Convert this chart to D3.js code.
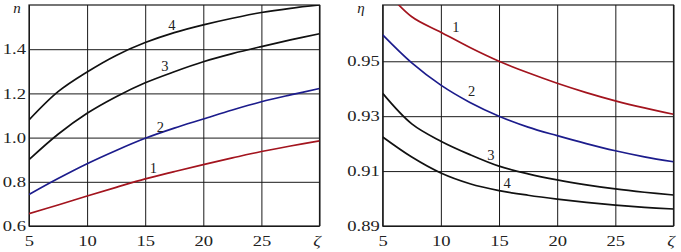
<!DOCTYPE html>
<html><head><meta charset="utf-8">
<script src="https://cdn.jsdelivr.net/npm/d3@7/dist/d3.min.js"></script>
<style>
body{margin:0;background:#fff;}
svg{display:block;}
</style></head>
<body>
<svg id="c" width="681" height="252"></svg>
<script>
const zeta = [5, 7.5, 10, 12.5, 15, 17.5, 20, 22.5, 25, 27.5, 30];
const xTicks = [5, 10, 15, 20, 25, 30];

// Left chart: n
const n1 = [0.656, 0.695, 0.736, 0.775, 0.813, 0.846, 0.878, 0.908, 0.937, 0.962, 0.985];
const n2 = [0.743, 0.815, 0.882, 0.942, 0.997, 1.043, 1.084, 1.125, 1.162, 1.193, 1.222];
const n3 = [0.900, 1.015, 1.110, 1.185, 1.248, 1.298, 1.343, 1.380, 1.412, 1.442, 1.470];
const n4 = [1.080, 1.208, 1.297, 1.372, 1.430, 1.475, 1.510, 1.540, 1.566, 1.585, 1.600];
const nTicks = [0.6, 0.8, 1.0, 1.2, 1.4];
const nLabelPos = [[15.7, 0.862], [16.3, 1.048], [16.7, 1.324], [17.3, 1.51]];

// Right chart: eta
const e1 = [0.9770, 0.9662, 0.9606, 0.9550, 0.9500, 0.9458, 0.9420, 0.9386, 0.9356, 0.9330, 0.9307];
const e2 = [0.9596, 0.9494, 0.9413, 0.9350, 0.9300, 0.9260, 0.9229, 0.9200, 0.9174, 0.9152, 0.9134];
const e3 = [0.9383, 0.9272, 0.9209, 0.9160, 0.9118, 0.9090, 0.9068, 0.9050, 0.9035, 0.9023, 0.9013];
const e4 = [0.9224, 0.9151, 0.9093, 0.9054, 0.9029, 0.9012, 0.8998, 0.8986, 0.8976, 0.8968, 0.8962];
const eTicks = [0.89, 0.91, 0.93, 0.95];
const eLabelPos = [[11.3, 0.9625], [12.65, 0.9391], [14.3, 0.916], [15.7, 0.9056]];

const seriesLabels = ["1", "2", "3", "4"];
const colors = ["#a3141e", "#1c1c8c", "#111", "#111"];

const svg = d3.select("#c");
const SX = 1.28;
const fontFam = "'Liberation Serif','DejaVu Serif',serif";

function panel(cfg) {
  const x = d3.scaleLinear().domain([5, 30]).range([cfg.x0, cfg.x1]);
  const y = d3.scaleLinear().domain(cfg.yDomain).range([226, 5]);
  const g = svg.append("g");
  const id = "clip" + cfg.name;
  svg.append("clipPath").attr("id", id).append("rect")
    .attr("x", cfg.x0).attr("y", 5).attr("width", cfg.x1 - cfg.x0).attr("height", 221);

  // y grid + labels
  const ya = g.append("g").attr("transform", `translate(${cfg.x0},0)`)
    .call(d3.axisLeft(y).tickValues(cfg.yTicks).tickFormat(cfg.yFmt)
      .tickSize(-(cfg.x1 - cfg.x0)).tickSizeOuter(0));
  ya.select(".domain").remove();
  ya.selectAll("line").attr("stroke", "#1a1a1a").attr("stroke-width", 1);
  ya.selectAll("text").attr("font-family", fontFam).attr("font-size", 14.5)
    .attr("fill", "#222").attr("x", -3 / SX).attr("dy", "0.32em")
    .attr("transform", `scale(${SX},1)`);

  // x grid + labels
  const xa = g.append("g").attr("transform", `translate(0,226)`)
    .call(d3.axisBottom(x).tickValues(xTicks)
      .tickFormat(d => d === 30 ? "ζ" : d)
      .tickSize(-221).tickSizeOuter(0));
  xa.select(".domain").remove();
  xa.selectAll("line").attr("stroke", "#1a1a1a").attr("stroke-width", 1);
  xa.selectAll("text").attr("font-family", fontFam).attr("font-size", 14.5)
    .attr("fill", "#222").attr("y", 10).attr("dy", "0.71em")
    .attr("text-anchor", "middle")
    .attr("transform", `scale(${SX},1)`)
    .attr("x", d => (d === 30 ? -3 : 0) / SX)
    .attr("font-style", d => d === 30 ? "italic" : null);

  // frame
  g.append("rect").attr("x", cfg.x0).attr("y", 5)
    .attr("width", cfg.x1 - cfg.x0).attr("height", 221)
    .attr("fill", "none").attr("stroke", "#1a1a1a").attr("stroke-width", 1.2);

  // curves
  const line = d3.line().x((d, i) => x(zeta[i])).y(d => y(d)).curve(d3.curveCatmullRom.alpha(0.5));
  const cg = g.append("g").attr("clip-path", `url(#${id})`);
  cfg.series.forEach((s, i) => {
    cg.append("path").datum(s).attr("d", line).attr("fill", "none")
      .attr("stroke", colors[i]).attr("stroke-width", 1.7);
  });

  // curve labels
  cfg.labelPos.forEach((p, i) => {
    g.append("text").attr("x", x(p[0])).attr("y", y(p[1]))
      .attr("text-anchor", "middle").attr("dy", "0.35em")
      .attr("font-family", fontFam).attr("font-size", 14.5).attr("fill", "#222")
      .text(seriesLabels[i]);
  });

  // axis title
  g.append("text").attr("x", cfg.titleX).attr("y", cfg.titleY)
    .attr("text-anchor", "middle").attr("font-family", fontFam)
    .attr("font-style", "italic").attr("font-size", 15).attr("fill", "#222")
    .text(cfg.title);
}

panel({name: "L", x0: 29, x1: 319.5, yDomain: [0.6, 1.6], yTicks: nTicks,
  yFmt: d3.format(".1f"), series: [n1, n2, n3, n4], labelPos: nLabelPos,
  title: "n", titleX: 17, titleY: 13});
panel({name: "R", x0: 382.7, x1: 673.5, yDomain: [0.89, 0.9705], yTicks: eTicks,
  yFmt: d3.format(".2f"), series: [e1, e2, e3, e4], labelPos: eLabelPos,
  title: "η", titleX: 361, titleY: 13});
</script>
</body></html>
